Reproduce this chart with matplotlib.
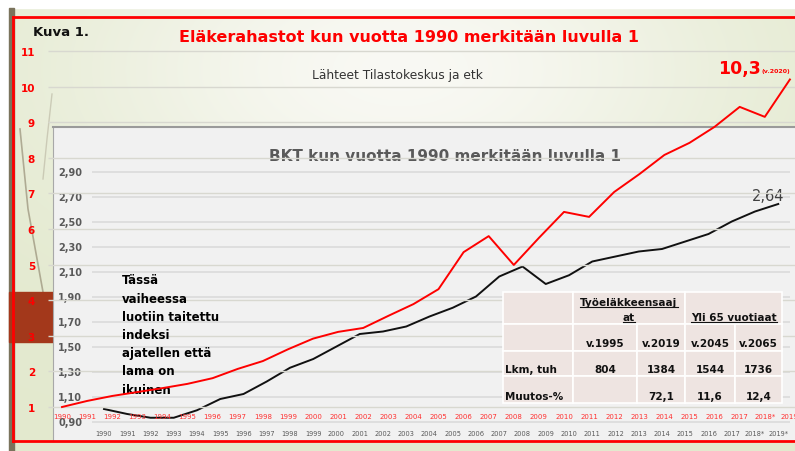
import numpy as np
import matplotlib.pyplot as plt
from matplotlib.patches import Rectangle

# ---- data ----
years = np.arange(1990, 2020)
# Eläkerahastot, 1990 = 1 (outer chart, red)
pension_funds = [1.00, 1.17, 1.31, 1.42, 1.53, 1.65, 1.81, 2.07, 2.29, 2.62,
                 2.92, 3.11, 3.22, 3.56, 3.89, 4.31, 5.35, 5.80, 4.99, 5.75,
                 6.48, 6.34, 7.04, 7.54, 8.08, 8.42, 8.87, 9.43, 9.15, 10.2]
# BKT, 1990 = 1 (inner chart, black)
gdp = [1.00, 0.96, 0.93, 0.93, 0.99, 1.08, 1.12, 1.22, 1.33, 1.40,
       1.50, 1.60, 1.62, 1.66, 1.74, 1.81, 1.90, 2.06, 2.14, 2.00,
       2.07, 2.18, 2.22, 2.26, 2.28, 2.34, 2.40, 2.50, 2.58, 2.64]

outer_xlabels = [str(y) for y in range(1990, 2018)] + ["2018*", "2019"]
inner_xlabels = [str(y) for y in range(1990, 2018)] + ["2018*", "2019*"]
outer_yticks = list(range(1, 12))
inner_yticks = [0.9, 1.1, 1.3, 1.5, 1.7, 1.9, 2.1, 2.3, 2.5, 2.7, 2.9]
inner_ylabels = ["0,90", "1,10", "1,30", "1,50", "1,70", "1,90",
                 "2,10", "2,30", "2,50", "2,70", "2,90"]

note_lines = ["Tässä", "vaiheessa", "luotiin taitettu", "indeksi",
              "ajatellen että", "lama on", "ikuinen"]

tbl_group1 = "Työeläkkeensaaj\nat"
tbl_group2 = "Yli 65 vuotiaat"
tbl_years = ["v.1995", "v.2019", "v.2045", "v.2065"]
tbl_lkm = ["804", "1384", "1544", "1736"]
tbl_muutos = ["", "72,1", "11,6", "12,4"]

W, H = 795, 452
RED = "#fe0000"
GREY = "#595959"

fig = plt.figure(figsize=(W / 100, H / 100), dpi=100)


def px_box(x0, y0, x1, y1):
    return [x0 / W, 1 - y1 / H, (x1 - x0) / W, (y1 - y0) / H]


# ---- slide background (pixel coordinates) ----
bg = fig.add_axes([0, 0, 1, 1], zorder=0)
bg.set_xlim(0, W)
bg.set_ylim(H, 0)
bg.axis("off")
yy, xx = np.mgrid[0:H, 0:W]
t = np.exp(-((xx - 400) / 330.0) ** 2 - ((yy - 70) / 180.0) ** 2)[..., None]
img = np.array([0.89, 0.915, 0.81]) * (1 - t) + np.array([0.975, 0.975, 0.955]) * t
bg.imshow(img, extent=(0, W, H, 0), aspect="auto", zorder=0)
bg.add_patch(Rectangle((0, 0), W, 9, color="white", zorder=1))
bg.add_patch(Rectangle((0, 0), 9, H, color="white", zorder=1))
bg.add_patch(Rectangle((9, 9), 5, H, color="#7a735c", zorder=1))
bg.add_patch(Rectangle((9, 293), 44, 50, color="#a3381b", zorder=2))
# decorative swooshes
bg.plot([20, 28, 43], [130, 210, 293], color="#8a8068", lw=1.2, alpha=0.6, zorder=1)
bg.plot([52, 47, 43], [95, 140, 180], color="#b8b4a0", lw=1, alpha=0.6, zorder=1)

# ---- inner chart: BKT ----
ax_in = fig.add_axes(px_box(53, 128, 795, 442), zorder=1)
ax_in.set_facecolor("#f1f1f1")
ax_in.set_xlim(1990 + (53 - 104) / 23.25, 1990 + (795 - 104) / 23.25)
ax_in.set_ylim(0.9 - (442 - 422.5) / 125, 0.9 + (422.5 - 128) / 125)
for s in ["right", "bottom"]:
    ax_in.spines[s].set_visible(False)
ax_in.spines["top"].set_color("#9a9a9a")
ax_in.spines["top"].set_linewidth(1.5)
ax_in.spines["left"].set_color("#a8a8a8")
ax_in.hlines(inner_yticks, 1990 + (92 - 104) / 23.25, 1990 + (790 - 104) / 23.25,
             color="#dcdcdc", lw=1.3, zorder=1)
ax_in.plot(years, gdp, color="#111111", lw=1.4, zorder=3)
ax_in.set_xticks(years)
ax_in.set_xticklabels(inner_xlabels)
ax_in.tick_params(axis="x", length=0, pad=-8.1, labelsize=4.8, labelcolor=GREY)
ax_in.set_yticks(inner_yticks)
ax_in.set_yticklabels(inner_ylabels)
ax_in.tick_params(axis="y", length=0, pad=-20.9, labelsize=7, labelcolor=GREY)
for lbl in ax_in.get_yticklabels():
    lbl.set_fontweight("bold")

ax_in.text(445, 157, "BKT kun vuotta 1990 merkitään luvulla 1", transform=bg.transData,
           ha="center", va="center", fontsize=11, fontweight="bold", color=GREY)
ax_in.text(752, 197, "2,64", transform=bg.transData, ha="left", va="center",
           fontsize=10.5, color="#404040")

# ---- outer chart: Eläkerahastot ----
ax = fig.add_axes(px_box(13, 18, 797, 442), zorder=2)
ax.patch.set_alpha(0)
ax.set_xlim(1990 + (13 - 62) / 25.1, 1990 + (797 - 62) / 25.1)
ax.set_ylim(1 - (442 - 408) / 35.6, 1 + (408 - 18) / 35.6)
for s in ax.spines.values():
    s.set_color(RED)
    s.set_linewidth(2)
ax.hlines(outer_yticks, 1990 + (48 - 62) / 25.1, 1990 + (797 - 62) / 25.1,
          color="#d8d8d0", lw=1, zorder=1)
# note text sits above the gridlines but under the red line
for i, line in enumerate(note_lines):
    ax.text(122, 281 + 18.2 * i, line, transform=bg.transData, ha="left", va="center",
            fontsize=8.5, fontweight="bold", color="black", zorder=2)
ax.plot(years, pension_funds, color=RED, lw=1.4, zorder=3)
ax.set_xticks(years)
ax.set_xticklabels(outer_xlabels)
ax.tick_params(axis="x", length=0, pad=-19.8, labelsize=5, labelcolor="#ff3030")
ax.set_yticks(outer_yticks)
ax.set_yticklabels([str(v) for v in outer_yticks])
ax.tick_params(axis="y", length=0, pad=-15.8, labelsize=7.5, labelcolor=RED)
for lbl in ax.get_yticklabels():
    lbl.set_fontweight("bold")

# ---- top overlay: titles and table ----
ov = fig.add_axes([0, 0, 1, 1], zorder=3)
ov.set_xlim(0, W)
ov.set_ylim(H, 0)
ov.axis("off")
ov.patch.set_alpha(0)

ov.text(33, 32, "Kuva 1.", ha="left", va="center", fontsize=9.5, fontweight="bold", color="#111111")
ov.text(409, 37, "Eläkerahastot kun vuotta 1990 merkitään luvulla 1", ha="center", va="center",
        fontsize=11.5, fontweight="bold", color=RED)
ov.text(397, 75, "Lähteet Tilastokeskus ja etk", ha="center", va="center", fontsize=8.8, color="#333333")
ov.text(718, 69, "10,3", ha="left", va="center", fontsize=12.5, fontweight="bold", color=RED)
ov.text(762, 71, "(v.2020)", ha="left", va="center", fontsize=4.5, fontweight="bold", color=RED)

# table
col_x = [503, 573, 637, 685, 735, 782]
row_y = [293, 325, 352, 377, 404]
cell_fc = "#eee4e1"
for x0, x1 in [(col_x[0], col_x[1]), (col_x[1], col_x[3]), (col_x[3], col_x[5])]:
    ov.add_patch(Rectangle((x0, row_y[0]), x1 - x0, row_y[1] - row_y[0],
                           facecolor=cell_fc, edgecolor="white", lw=1.2))
for r in range(1, 4):
    for c in range(5):
        ov.add_patch(Rectangle((col_x[c], row_y[r]), col_x[c + 1] - col_x[c], row_y[r + 1] - row_y[r],
                               facecolor=cell_fc, edgecolor="white", lw=1.2))

tkw = dict(fontsize=7.5, fontweight="bold", color="#111111", va="center")
head = [ov.text(629, 303, tbl_group1.split("\n")[0], ha="center", **tkw),
        ov.text(629, 318, tbl_group1.split("\n")[1], ha="center", **tkw),
        ov.text(734, 318, tbl_group2, ha="center", **tkw)]
centers = [(col_x[c] + col_x[c + 1]) / 2 for c in range(1, 5)]
for cx, a, b, m in zip(centers, tbl_years, tbl_lkm, tbl_muutos):
    ov.text(cx, 344, a, ha="center", **tkw)
    ov.text(cx, 370, b, ha="center", **tkw)
    ov.text(cx, 397, m, ha="center", **tkw)
ov.text(505, 370, "Lkm, tuh", ha="left", **tkw)
ov.text(505, 397, "Muutos-%", ha="left", **tkw)

# underline the group headers
renderer = fig.canvas.get_renderer()
for h in head:
    bb = h.get_window_extent(renderer).transformed(ov.transData.inverted())
    yb = max(bb.y0, bb.y1)
    ov.plot([bb.x0, bb.x1], [yb, yb], color="#111111", lw=0.8)

fig.savefig("out.png", dpi=100)
